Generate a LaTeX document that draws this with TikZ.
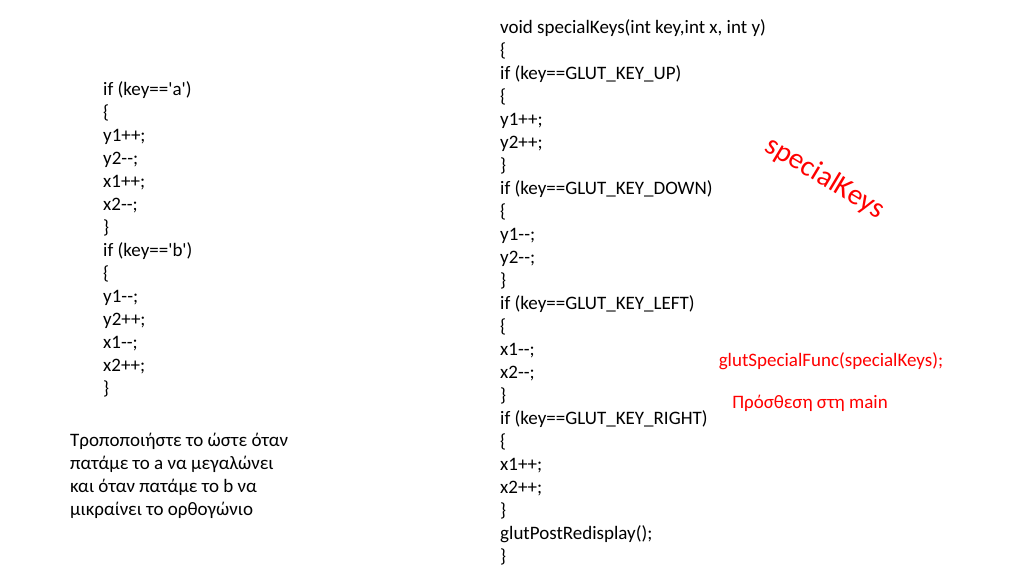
\documentclass[tikz,border=0pt]{standalone}
\usepackage{fontspec}
\setmainfont{Carlito}
\begin{document}
\begin{tikzpicture}[x=1pt,y=-1pt,
  code/.style={anchor=north west,inner sep=0pt,align=left,font=\fontsize{19}{23}\selectfont},
  note/.style={inner sep=0pt,text=red,font=\fontsize{19}{22}\selectfont}]
\useasboundingbox (0,0) rectangle (1024,576);

% left block
\node[code] (keya) at (103,81) {if (key==\textquotesingle a\textquotesingle)\\ \{\\ y1++;\\ y2-{}-;\\ x1++;\\ x2-{}-;\\ \}\\ if (key==\textquotesingle b\textquotesingle)\\ \{\\ y1-{}-;\\ y2++;\\ x1-{}-;\\ x2++;\\ \}};

% task text
\node[code] (task) at (70,433) {Τροποποιήστε το ώστε όταν\\ πατάμε το a να μεγαλώνει\\ και όταν πατάμε το b να\\ μικραίνει το ορθογώνιο};

% right block
\node[code] (spec) at (500,19) {void specialKeys(int key,int x, int y)\\ \{\\ if (key==GLUT\_KEY\_UP)\\ \{\\ y1++;\\ y2++;\\ \}\\ if (key==GLUT\_KEY\_DOWN)\\ \{\\ y1-{}-;\\ y2-{}-;\\ \}\\ if (key==GLUT\_KEY\_LEFT)\\ \{\\ x1-{}-;\\ x2-{}-;\\ \}\\ if (key==GLUT\_KEY\_RIGHT)\\ \{\\ x1++;\\ x2++;\\ \}\\ glutPostRedisplay();\\ \}};

% red notes
\node[note,font=\fontsize{29}{32}\selectfont,rotate=-31] (title) at (825,178) {specialKeys};
\node[note] (func) at (831,361) {glutSpecialFunc(specialKeys);};
\node[note] (main) at (810,403) {Πρόσθεση στη main};
\end{tikzpicture}
\end{document}
